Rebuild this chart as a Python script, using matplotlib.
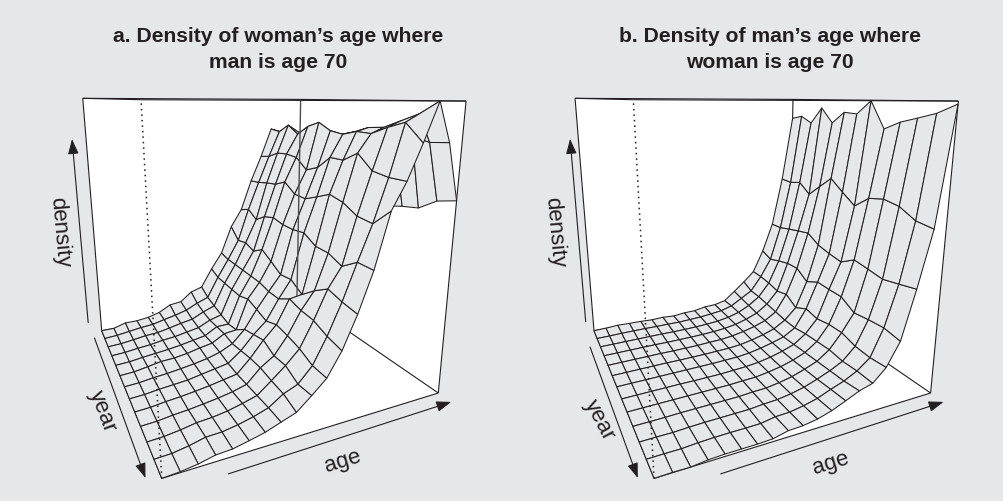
import numpy as np
import matplotlib
matplotlib.use("Agg")
import matplotlib.pyplot as plt
from mpl_toolkits.mplot3d.art3d import Poly3DCollection, Line3DCollection

plt.rcParams["font.family"] = ["Liberation Sans", "DejaVu Sans"]

BG = "#E6E7E9"
INK = "#231F20"
SURFACE = "#E6E7E8"

ages = list(range(52, 92, 2))
years = list(range(1996, 2009))

# one line per age, values run over the years (back of the box to the front)
density_a = [
    [0] * 13,
    [.001, .004, .003, .003, .003, .003, .003, .003, .003, .003, .003, .002, .003],
    [.017, .012, .010, .010, .010, .012, .010, .010, .010, .010, .010, .011, .010],
    [.018, .020, .018, .015, .016, .022, .015, .015, .015, .015, .020, .024, .022],
    [.025, .025, .022, .024, .022, .025, .022, .020, .022, .022, .024, .026, .025],
    [.040, .038, .033, .030, .030, .033, .030, .030, .030, .030, .032, .035, .036],
    [.068, .050, .045, .040, .040, .045, .040, .040, .040, .040, .045, .048, .048],
    [.075, .065, .055, .050, .050, .055, .055, .050, .050, .055, .060, .065, .067],
    [.115, .090, .080, .075, .080, .085, .080, .090, .100, .105, .101, .100, .085],
    [.132, .110, .100, .090, .082, .092, .130, .145, .160, .139, .144, .121, .128],
    [.215, .200, .200, .200, .200, .217, .204, .190, .210, .204, .194, .174, .174],
    [.288, .280, .280, .280, .280, .280, .270, .270, .301, .289, .286, .266, .255],
    [.412, .366, .376, .360, .390, .363, .333, .340, .310, .354, .390, .375, .366],
    [.490, .508, .478, .509, .522, .511, .510, .517, .487, .485, .462, .501, .500],
    [.625, .630, .640, .647, .669, .632, .628, .650, .674, .660, .629, .622, .680],
    [.738, .747, .770, .774, .768, .727, .747, .794, .793, .826, .776, .766, .766],
    [.864, .857, .890, .856, .893, .913, .885, .877, .892, .890, .915, .935, .878],
    [.850, .825, .858, .863, .806, .853, .870, .885, .905, .910, .935, .960, 1.00],
    [.820, .800, .820, .830, .820, .830, .840, .840, .850, .860, .885, .870, .876],
    [.580, .600, .580, .600, .600, .590, .600, .600, .610, .624, .634, .674, .690],
]

density_b = [
    [0] * 13,
    [.002, .001, .001, .001, .001, .001, .001, .001, .001, .001, .001, .001, .001],
    [.006, .003, .002, .002, .002, .002, .002, .002, .002, .002, .001, .001, 0],
    [.005, .004, .003, .003, .003, .003, .003, .003, .003, .004, .004, .005, .006],
    [.005, .005, .004, .004, .004, .004, .004, .004, .004, .005, .006, .007, .008],
    [.003, .005, .005, .004, .004, .004, .005, .004, .005, .006, .007, .008, .008],
    [.006, .006, .005, .005, .005, .005, .006, .005, .006, .007, .008, .008, .008],
    [.003, .006, .006, .006, .006, .006, .007, .006, .007, .008, .009, .009, .010],
    [.009, .009, .008, .008, .009, .008, .009, .009, .010, .012, .014, .018, .022],
    [.011, .012, .011, .011, .011, .010, .011, .012, .012, .014, .017, .020, .024],
    [.021, .018, .016, .016, .017, .015, .017, .018, .020, .022, .025, .029, .032],
    [.024, .025, .025, .025, .027, .025, .027, .028, .030, .033, .037, .042, .047],
    [.036, .040, .040, .040, .040, .038, .040, .042, .045, .050, .055, .062, .068],
    [.076, .070, .065, .060, .058, .055, .055, .060, .065, .070, .075, .080, .090],
    [.118, .100, .100, .095, .090, .085, .085, .095, .100, .105, .100, .105, .104],
    [.164, .165, .160, .150, .164, .133, .160, .150, .161, .163, .147, .143, .149],
    [.266, .247, .263, .276, .278, .244, .270, .267, .266, .233, .240, .244, .232],
    [.398, .400, .412, .423, .433, .401, .386, .375, .408, .397, .385, .395, .406],
    [.621, .617, .629, .588, .636, .683, .639, .598, .643, .655, .644, .611, .602],
    [.912, .924, .897, .965, .905, .951, .947, .998, .898, .926, .943, .961, .991],
]

# persp-style camera: box fractions (age, year, density) to panel pixels
camera = np.array([
    [249.2, -2.5, -27.8, 101.7],
    [19.2, -37.7, -243.0, 331.7],
    [.1816, -.3867, -.107, 0.7],
    [.1816, -.3867, -.107, 1.0],
])
world = np.array([
    [1 / (ages[-1] - ages[0]), 0, 0, -ages[0] / (ages[-1] - ages[0])],
    [0, 1 / (years[-1] - years[0]), 0, -years[0] / (years[-1] - years[0])],
    [0, 0, 1, 0],
    [0, 0, 0, 1],
])
M = camera @ world


def frac(u, v, w):
    return (ages[0] + u * (ages[-1] - ages[0]),
            years[0] + v * (years[-1] - years[0]),
            w)


def project(u, v, w):
    p = camera @ np.array([u, v, w, 1.0])
    return p[0] / p[3], p[1] / p[3]


def edges(ax, pairs, zorder, color=INK, lw=0.8, ls="solid"):
    segs = [[frac(*a), frac(*b)] for a, b in pairs]
    ax.add_collection3d(Line3DCollection(segs, colors=color, linewidths=lw, linestyles=ls, zorder=zorder), autolim=False)


def arrow(ax, a, b):
    ax.annotate("", xy=project(*b), xytext=project(*a), zorder=6,
                arrowprops=dict(arrowstyle="-|>,head_length=0.7,head_width=0.25",
                                color=INK, lw=0.8, mutation_scale=13,
                                shrinkA=0, shrinkB=0))


def panel(left_px, density, back_over, year_tail, density_u):
    ax = fig.add_axes([left_px / 1004, 0, 502 / 1004, 1], projection="3d")
    ax.set_axis_off()
    ax.patch.set_visible(False)
    ax.computed_zorder = False
    ax.get_proj = lambda: M
    ax.viewLim.set_points(np.array([[0.0, 502.0], [502.0, 0.0]]))

    L0, F0, R0, B0 = (0, 0, 0), (0, 1, 0), (1, 1, 0), (1, 0, 0)
    L1, F1, R1, B1 = (0, 0, 1), (0, 1, 1), (1, 1, 1), (1, 0, 1)

    faces = [[frac(*c) for c in f] for f in ([L0, F0, R0, B0], [L0, B0, B1, L1], [B0, R0, R1, B1])]
    ax.add_collection3d(Poly3DCollection(faces, facecolor="white", edgecolor="white", linewidth=0.5, zorder=1), autolim=False)

    edges(ax, [(L0, L1), (R0, R1), (L0, F0), (F0, R0), (R0, B0), (L0, B0)], 2)
    if back_over:
        edges(ax, [(B0, B1)], 4, color="#4D4D4F", lw=1.0)
    else:
        edges(ax, [(B0, B1)], 2)

    X, Y = np.meshgrid(ages, years)
    Z = np.array(density).T
    ax.plot_surface(X, Y, Z, rstride=1, cstride=1, color=SURFACE, shade=False,
                    edgecolor=INK, linewidth=0.75, zorder=3)

    edges(ax, [(L1, F1), (F1, R1), (L1, B1), (B1, R1)], 5)
    edges(ax, [(F0, F1)], 5, lw=1.1, ls=(0, (1, 2.6)))

    arrow(ax, (density_u, -.09, .01), (density_u, -.09, .835))
    arrow(ax, (-.04, year_tail, 0), (-.04, .98, 0))
    arrow(ax, (.172, 1.06, 0), (1, 1.06, 0))
    return ax


fig = plt.figure(figsize=(10.04, 5.02), dpi=100, facecolor=BG)

panel(0, density_a, True, .06, -.045)
panel(492.3, density_b, False, .15, -.022)


def label(x, y, s, **kw):
    fig.text(x / 1004, 1 - y / 502, s, ha="center", va="center", color=INK, **kw)


label(278, 37, "a. Density of woman\u2019s age where", fontsize=15.2, fontweight="bold")
label(278, 62, "man is age 70", fontsize=15.2, fontweight="bold")
label(770, 37, "b. Density of man\u2019s age where", fontsize=15.2, fontweight="bold")
label(770, 62, "woman is age 70", fontsize=15.2, fontweight="bold")

label(60, 232, "density", fontsize=16, rotation=-85, rotation_mode="anchor")
label(555, 232, "density", fontsize=16, rotation=-85, rotation_mode="anchor")
label(102, 411, "year", fontsize=16, rotation=-69, rotation_mode="anchor")
label(599, 420, "year", fontsize=16, rotation=-62, rotation_mode="anchor")
label(343, 462, "age", fontsize=16, rotation=17, rotation_mode="anchor")
label(831, 464, "age", fontsize=16, rotation=17, rotation_mode="anchor")

fig.savefig("out.png", dpi=100, facecolor=BG)
